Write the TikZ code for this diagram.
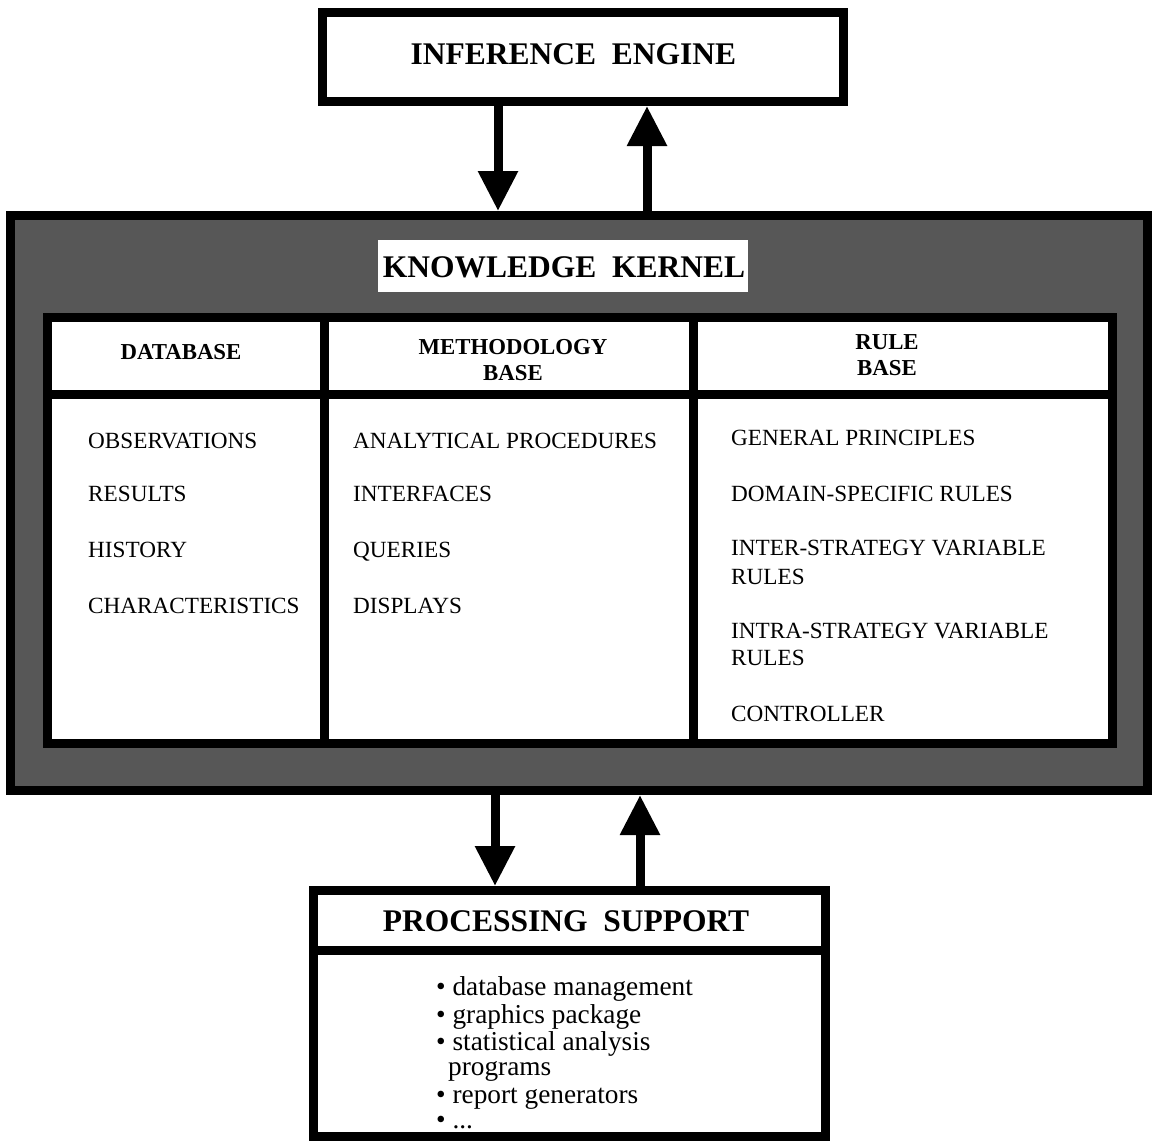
\documentclass[tikz,border=0pt]{standalone}
\usepackage{fontspec}
\setmainfont{Liberation Serif}
\usetikzlibrary{arrows.meta,calc}
\begin{document}
\begin{tikzpicture}[x=1pt,y=-1pt,
  frame/.style={draw=black, line width=9pt, rectangle, inner sep=0pt},
  flow/.style={line width=9pt, -{Triangle[length=40pt,width=38pt]}},
  rule/.style={line width=9pt},
  title/.style={font=\fontsize{31.5}{36}\selectfont\bfseries, inner sep=0pt, anchor=base},
  head/.style={font=\fontsize{22.8}{26}\selectfont\bfseries, inner sep=0pt, anchor=base},
  item/.style={font=\fontsize{23.2}{28}\selectfont, inner sep=0pt, anchor=base west},
  tool/.style={font=\fontsize{27.3}{28}\selectfont, inner sep=0pt, anchor=base west},
]
\useasboundingbox[fill=white] (0,0) rectangle (1153,1141);

% Inference engine
\node[frame, fill=white, minimum width=521pt, minimum height=89pt] (ie) at (583,57) {};
\node[title] (ielbl) at (573.5,64) {INFERENCE\ \ ENGINE};

% Knowledge kernel: shaded frame holding the three-part table
\node[frame, fill=black!66, minimum width=1137pt, minimum height=575pt] (kk) at (579,503) {};
\node[fill=white, inner sep=0pt, minimum width=370pt, minimum height=52pt] (kkbox) at (563,266) {};
\node[title] (kklbl) at (564,277) {KNOWLEDGE\ \ KERNEL};

\node[frame, fill=white, minimum width=1065pt, minimum height=426pt] (tbl) at (580,530.5) {};
\draw[rule] (47.5,394.5) -- (1112.5,394.5);
\draw[rule] (324.5,317.5) -- (324.5,743.5);
\draw[rule] (693,317.5) -- (693,743.5);

% Column headers
\node[head] (h1) at (181,359) {DATABASE};
\node[head] (h2a) at (513,354) {METHODOLOGY};
\node[head] (h2b) at (513,380) {BASE};
\node[head] (h3a) at (887,349) {RULE};
\node[head] (h3b) at (887,375) {BASE};

% Database entries
\node[item] (d1) at (88,448) {OBSERVATIONS};
\node[item] (d2) at (88,501) {RESULTS};
\node[item] (d3) at (88,557) {HISTORY};
\node[item] (d4) at (88,613) {CHARACTERISTICS};

% Methodology base entries
\node[item] (m1) at (353,448) {ANALYTICAL PROCEDURES};
\node[item] (m2) at (353,501) {INTERFACES};
\node[item] (m3) at (353,557) {QUERIES};
\node[item] (m4) at (353,613) {DISPLAYS};

% Rule base entries
\node[item] (r1) at (731,445) {GENERAL PRINCIPLES};
\node[item] (r2) at (731,501) {DOMAIN-SPECIFIC RULES};
\node[item] (r3) at (731,555) {INTER-STRATEGY VARIABLE};
\node[item] (r3b) at (731,584) {RULES};
\node[item] (r4) at (731,638) {INTRA-STRATEGY VARIABLE};
\node[item] (r4b) at (731,665) {RULES};
\node[item] (r5) at (731,721) {CONTROLLER};

% Processing support
\node[frame, fill=white, minimum width=512pt, minimum height=246pt] (ps) at (569.5,1013.5) {};
\draw[rule] (313.5,950.5) -- (825.5,950.5);
\node[title] (pslbl) at (566,931) {PROCESSING\ \ SUPPORT};
\node[tool] (t1) at (436,995) {• database management};
\node[tool] (t2) at (436,1023) {• graphics package};
\node[tool] (t3) at (436,1050) {• statistical analysis};
\node[tool] (t3b) at (448,1075) {programs};
\node[tool] (t4) at (436,1103) {• report generators};
\node[tool] (t5) at (436,1128) {• ...};

% Connectors
\coordinate (c1) at (498,0);
\coordinate (c2) at (647,0);
\coordinate (c3) at (495,0);
\coordinate (c4) at (640,0);
\draw[flow] (ie.south -| c1) -- (kk.north -| c1);
\draw[flow] (kk.north -| c2) -- (ie.south -| c2);
\draw[flow] (kk.south -| c3) -- (ps.north -| c3);
\draw[flow] (ps.north -| c4) -- (kk.south -| c4);
\end{tikzpicture}
\end{document}
